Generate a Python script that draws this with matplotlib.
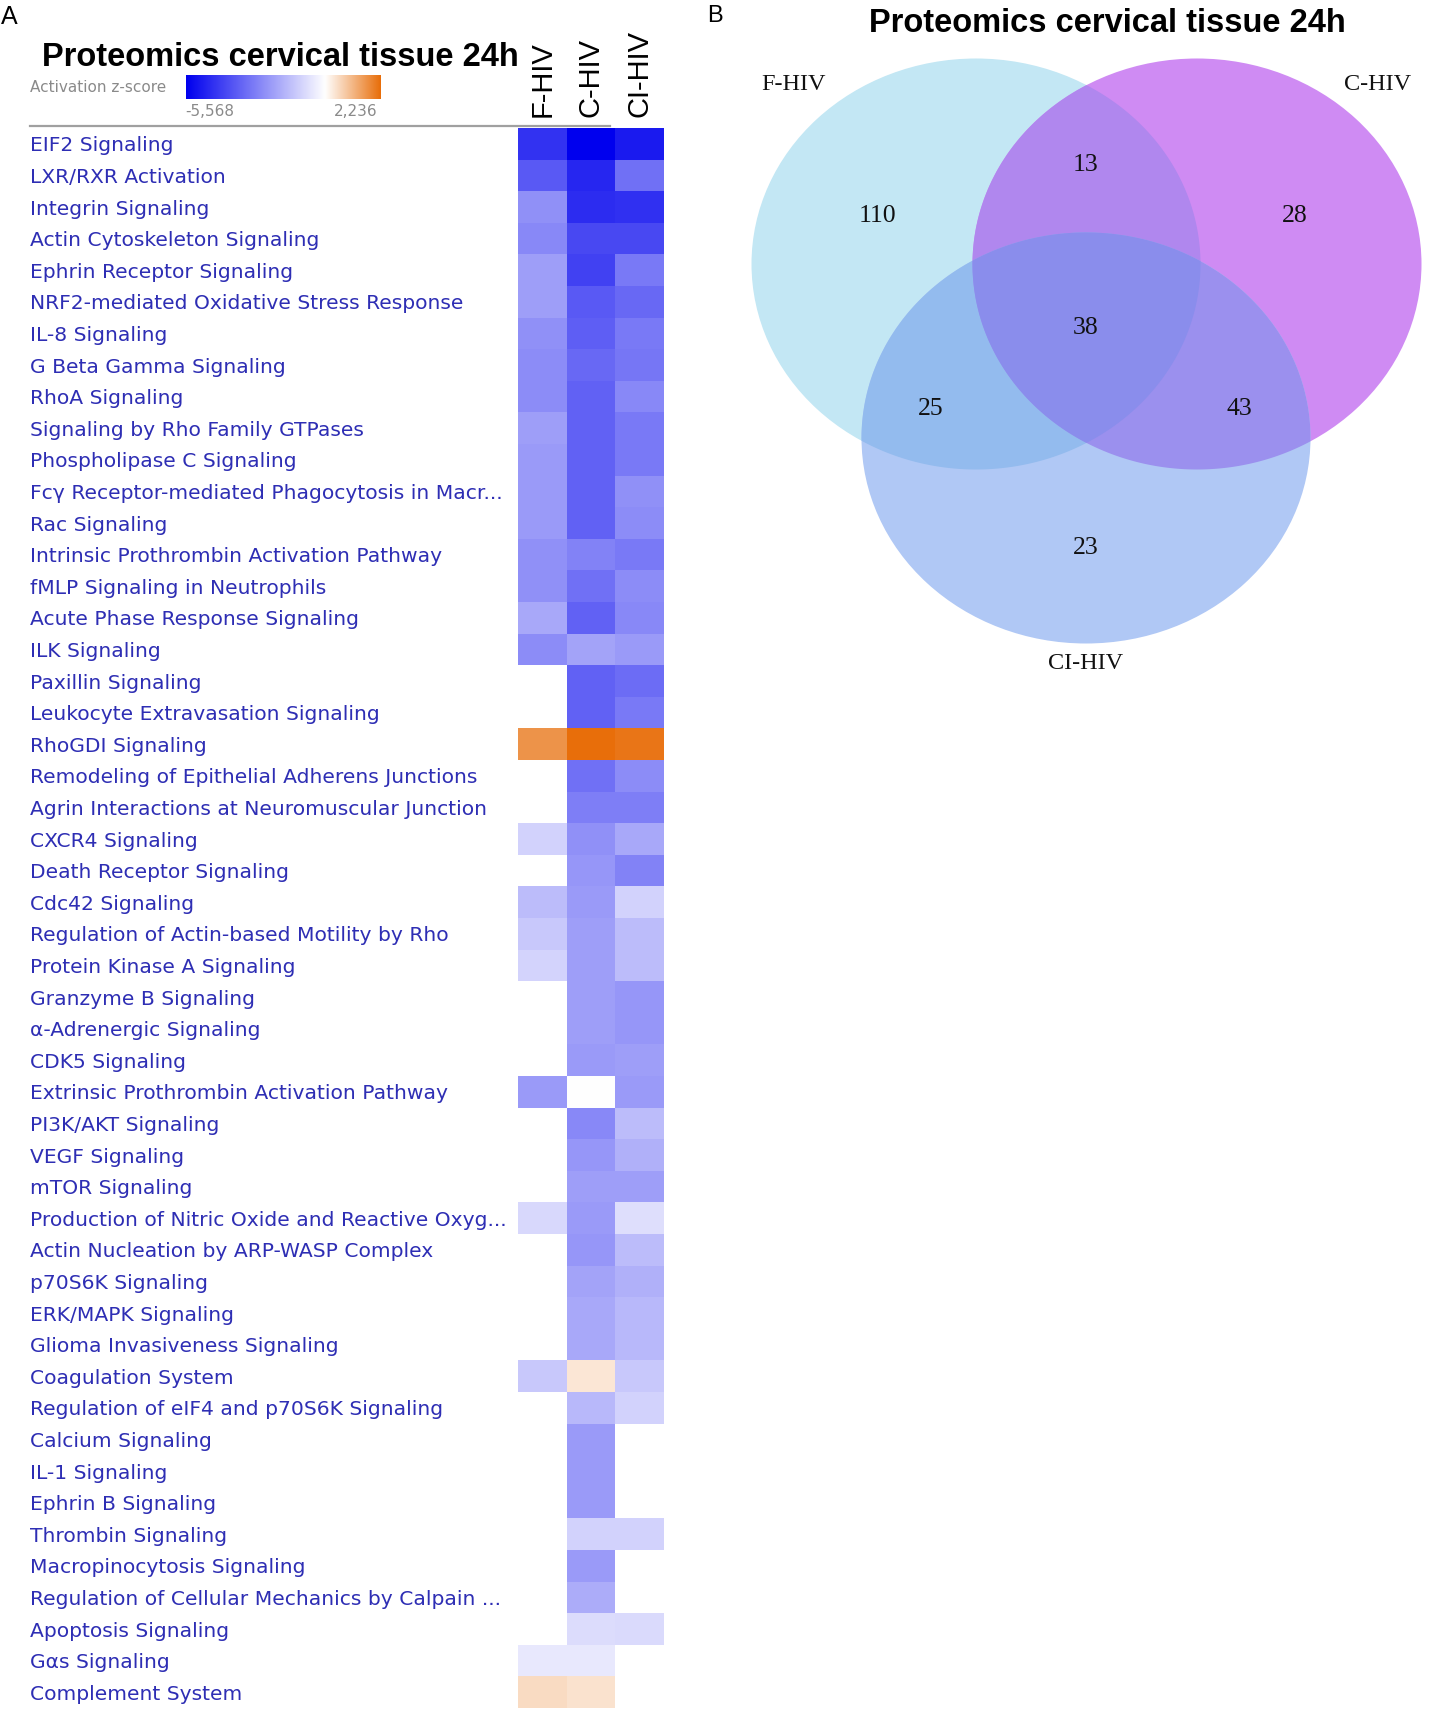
import numpy as np
import matplotlib
matplotlib.use("Agg")
import matplotlib.pyplot as plt
import matplotlib.transforms as mtransforms
from matplotlib.colors import LinearSegmentedColormap, TwoSlopeNorm
from matplotlib.patches import Ellipse, Polygon

# ---------------- DATA ----------------
title = "Proteomics cervical tissue 24h"
conditions = ["F-HIV", "C-HIV", "CI-HIV"]
pathways = [
    "EIF2 Signaling", "LXR/RXR Activation", "Integrin Signaling",
    "Actin Cytoskeleton Signaling", "Ephrin Receptor Signaling",
    "NRF2-mediated Oxidative Stress Response", "IL-8 Signaling",
    "G Beta Gamma Signaling", "RhoA Signaling", "Signaling by Rho Family GTPases",
    "Phospholipase C Signaling", "Fcγ Receptor-mediated Phagocytosis in Macr...",
    "Rac Signaling", "Intrinsic Prothrombin Activation Pathway",
    "fMLP Signaling in Neutrophils", "Acute Phase Response Signaling",
    "ILK Signaling", "Paxillin Signaling", "Leukocyte Extravasation Signaling",
    "RhoGDI Signaling", "Remodeling of Epithelial Adherens Junctions",
    "Agrin Interactions at Neuromuscular Junction", "CXCR4 Signaling",
    "Death Receptor Signaling", "Cdc42 Signaling",
    "Regulation of Actin-based Motility by Rho", "Protein Kinase A Signaling",
    "Granzyme B Signaling", "α-Adrenergic Signaling", "CDK5 Signaling",
    "Extrinsic Prothrombin Activation Pathway", "PI3K/AKT Signaling",
    "VEGF Signaling", "mTOR Signaling",
    "Production of Nitric Oxide and Reactive Oxyg...",
    "Actin Nucleation by ARP-WASP Complex", "p70S6K Signaling",
    "ERK/MAPK Signaling", "Glioma Invasiveness Signaling", "Coagulation System",
    "Regulation of eIF4 and p70S6K Signaling", "Calcium Signaling",
    "IL-1 Signaling", "Ephrin B Signaling", "Thrombin Signaling",
    "Macropinocytosis Signaling", "Regulation of Cellular Mechanics by Calpain ...",
    "Apoptosis Signaling", "Gαs Signaling", "Complement System",
]
z_f_hiv = [
    -4.45, -3.6, -2.4, -2.6, -2.1, -2.1, -2.4, -2.5, -2.5, -2.1,
    -2.2, -2.2, -2.2, -2.4, -2.4, -1.9, -2.5, None, None, 1.65,
    None, None, -1.0, None, -1.45, -1.2, -0.94, None, None, None,
    -2.2, None, None, None, -0.85, None, None, None, None, -1.2,
    None, None, None, None, None, None, None, None, -0.5, 0.55,
]
z_c_hiv = [
    -5.57, -4.7, -4.6, -4.0, -4.1, -3.6, -3.5, -3.3, -3.4, -3.4,
    -3.4, -3.4, -3.4, -2.7, -3.1, -3.4, -2.0, -3.4, -3.4, 2.236,
    -3.1, -2.8, -2.4, -2.3, -2.2, -2.1, -2.1, -2.1, -2.1, -2.2,
    0.0, -2.6, -2.3, -2.1, -2.2, -2.3, -2.0, -1.9, -1.9, 0.38,
    -1.55, -2.2, -2.2, -2.2, -1.0, -2.2, -1.8, -0.75, -0.5, 0.45,
]
z_ci_hiv = [
    -5.0, -3.1, -4.5, -4.0, -2.9, -3.3, -2.9, -3.0, -2.6, -2.9,
    -2.9, -2.4, -2.5, -2.9, -2.5, -2.6, -2.2, -3.2, -2.9, 2.1,
    -2.5, -2.8, -1.9, -2.7, -1.0, -1.45, -1.45, -2.3, -2.3, -2.1,
    -2.2, -1.45, -1.7, -2.1, -0.7, -1.45, -1.7, -1.55, -1.55, -1.2,
    -1.0, None, None, None, -1.0, None, None, -0.8, None, None,
]
z_min, z_max = -5.568, 2.236
z_min_label, z_max_label = "-5,568", "2,236"

venn_sets = ["F-HIV", "C-HIV", "CI-HIV"]
venn_regions = ["100", "010", "001", "110", "101", "011", "111"]
venn_counts = [110, 28, 23, 13, 25, 43, 38]

# ---------------- LAYOUT ----------------
W, H = 1437, 1710
fig = plt.figure(figsize=(W / 100, H / 100), dpi=100)
fig.patch.set_facecolor("white")


def fig_rect(x0, y0, x1, y1):
    return [x0 / W, 1 - y1 / H, (x1 - x0) / W, (y1 - y0) / H]


cmap = LinearSegmentedColormap.from_list("ipa", ["#0000ee", "#ffffff", "#e86e0a"])
cmap.set_bad("white")
norm = TwoSlopeNorm(vmin=z_min, vcenter=0.0, vmax=z_max)

# overlay axes in pixel units
ov = fig.add_axes([0, 0, 1, 1])
ov.set_xlim(0, W)
ov.set_ylim(H, 0)
ov.axis("off")
ov.set_zorder(0)

# heatmap
ax = fig.add_axes(fig_rect(518, 128, 664, 1708))
ax.set_zorder(1)
data = np.array([z_f_hiv, z_c_hiv, z_ci_hiv], dtype=float).T
ax.imshow(np.ma.masked_invalid(data), cmap=cmap, norm=norm, aspect="auto",
          interpolation="nearest")
ax.set_xlim(-0.5, len(conditions) - 0.5)
ax.set_ylim(len(pathways) - 0.5, -0.5)
ax.axis("off")

trans = mtransforms.blended_transform_factory(fig.transFigure, ax.transData)
label_off = mtransforms.ScaledTranslation(0, -2 / 100, fig.dpi_scale_trans)
for i, p in enumerate(pathways):
    ax.text(30 / W, i, p, transform=trans + label_off, ha="left", va="center",
            fontsize=14.6, color="#2e2eb4", family="DejaVu Sans", clip_on=False)
for j, c in enumerate(conditions):
    ax.text(j, -0.86, c, rotation=90, ha="center", va="bottom", fontsize=21,
            family="Liberation Sans", color="black", clip_on=False)

# separator line
ov.plot([30, 610], [126, 126], color="#a0a0a0", lw=1.6)

# colour key
cax = fig.add_axes(fig_rect(186, 75, 381, 99))
grad = np.linspace(z_min, z_max, 600)[None, :]
cax.imshow(grad, cmap=cmap, norm=norm, aspect="auto",
           extent=[z_min, z_max, 0, 1])
cax.axis("off")
ov.text(30, 88, "Activation z-score", ha="left", va="center", fontsize=11,
        color="#8a8a8a", family="DejaVu Sans")
ov.text(210, 112, z_min_label, ha="center", va="center", fontsize=11,
        color="#8a8a8a", family="DejaVu Sans")
ov.text(356, 112, z_max_label, ha="center", va="center", fontsize=11,
        color="#8a8a8a", family="DejaVu Sans")

# titles & panel letters
ov.text(280, 58, title, ha="center", va="center", fontsize=23.5,
        fontweight="bold", family="Liberation Sans")
ov.text(1107, 23, title, ha="center", va="center", fontsize=23.5,
        fontweight="bold", family="Liberation Sans")
ov.text(9, 17, "A", ha="center", va="center", fontsize=18, family="Liberation Sans")
ov.text(715, 16, "B", ha="center", va="center", fontsize=17, family="Liberation Sans")

# ---------------- VENN ----------------
RX, RY = 224.5, 205.5
centers = [(976, 264), (1197, 264), (1086, 438)]
region_colors = {"100": "#c3e7f4", "010": "#cf8bf3", "001": "#b0c8f5",
                 "110": "#b087ee", "101": "#93bbee", "011": "#9b90ee",
                 "111": "#8a8dec"}
count_pos = {"100": (877, 216), "010": (1295, 216), "001": (1086, 548),
             "110": (1086, 165), "101": (931, 409), "011": (1239, 409),
             "111": (1086, 328)}
name_pos = [(794, 84), (1378, 84), (1086, 663)]


def boundary(c, n=1800):
    t = np.linspace(0, 2 * np.pi, n, endpoint=False)
    return np.column_stack([c[0] + RX * np.cos(t), c[1] + RY * np.sin(t)])


def inside(pts, c):
    return ((pts[:, 0] - c[0]) / RX) ** 2 + ((pts[:, 1] - c[1]) / RY) ** 2 <= 1 + 1e-9


def intersection(idx):
    pts = []
    for k in idx:
        b = boundary(centers[k])
        m = np.ones(len(b), bool)
        for o in idx:
            if o != k:
                m &= inside(b, centers[o])
        pts.append(b[m])
    pts = np.vstack(pts)
    cen = pts.mean(axis=0)
    ang = np.arctan2(pts[:, 1] - cen[1], pts[:, 0] - cen[0])
    return pts[np.argsort(ang)]


for k, c in enumerate(centers):
    key = "".join("1" if i == k else "0" for i in range(3))
    ov.add_patch(Ellipse(c, 2 * RX, 2 * RY, facecolor=region_colors[key],
                         edgecolor="none", lw=0))
for key in ["110", "101", "011", "111"]:
    idx = [i for i, ch in enumerate(key) if ch == "1"]
    ov.add_patch(Polygon(intersection(idx), closed=True,
                         facecolor=region_colors[key], edgecolor="none", lw=0))

for key, cnt in zip(venn_regions, venn_counts):
    x, y = count_pos[key]
    ov.text(x, y, str(cnt), ha="center", va="center", fontsize=18.5,
            family="Liberation Serif", color="#111111")
for name, (x, y) in zip(venn_sets, name_pos):
    ov.text(x, y, name, ha="center", va="center", fontsize=17.5,
            family="Liberation Serif", color="#111111")

fig.savefig("out.png", dpi=100, facecolor="white")
